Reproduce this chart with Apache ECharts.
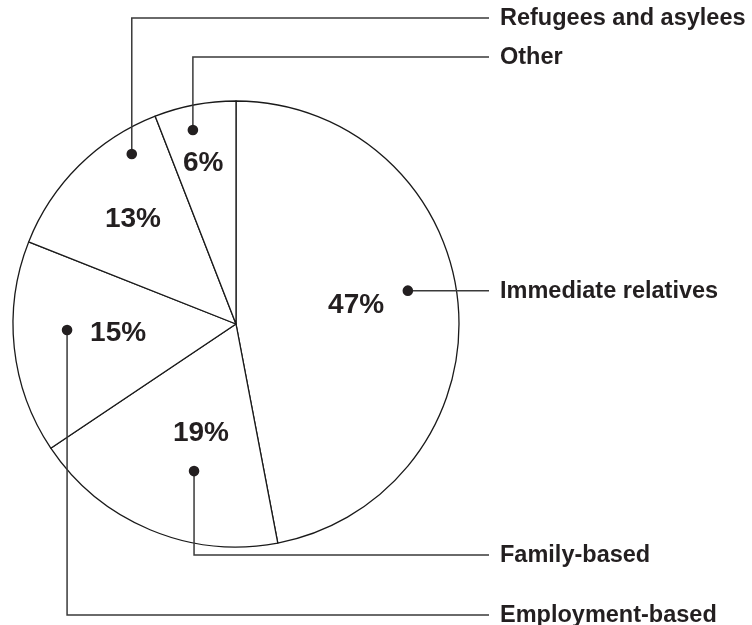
<!DOCTYPE html>
<html><head><meta charset="utf-8">
<script src="https://cdn.jsdelivr.net/npm/echarts@6/dist/echarts.min.js"></script>
<style>html,body{margin:0;padding:0;background:#fff}#c{width:752px;height:625px}</style>
</head><body><div id="c"></div>
<script>
// ---- data ----
const categories = ['Immediate relatives', 'Family-based', 'Employment-based', 'Refugees and asylees', 'Other'];
const shares = [47.0, 18.6, 15.4, 13.1, 5.9];
const shareLabels = ['47%', '19%', '15%', '13%', '6%'];

// ---- layout (placement inside each slice: [fraction of slice angle, fraction of radius]) ----
const valueLabelPlace = [[0.476, 0.546], [0.43, 0.509], [0.54, 0.53], [0.513, 0.663], [0.46, 0.741]];
const dotPlace = [[0.467, 0.785], [0.399, 0.686], [0.574, 0.758], [0.782, 0.894], [0.41, 0.891]];
const nameRowY = [null, 555, 615, 18, 57];
const LINE_END_X = 489, NAME_X = 500;
const FONT = "'Liberation Sans', Arial, Helvetica, sans-serif";
const INK = '#231f20';

const chart = echarts.init(document.getElementById('c'), null, { renderer: 'canvas' });

function sliceLayout(i) {
  let lay = null;
  try { lay = chart.getModel().getSeriesByIndex(0).getData().getItemLayout(i); } catch (e) { lay = null; }
  return lay;
}
function pointIn(i, place) {
  const lay = sliceLayout(i);
  const a = lay.startAngle + place[0] * (lay.endAngle - lay.startAngle);
  const r = lay.r * place[1];
  return [lay.cx + r * Math.cos(a), lay.cy + r * Math.sin(a)];
}

chart.setOption({
  animation: false,
  backgroundColor: '#ffffff',
  series: [{
    type: 'pie',
    center: [236, 324],
    radius: 223,
    startAngle: 90,
    clockwise: true,
    silent: true,
    itemStyle: { color: '#ffffff', borderColor: '#1a1a1a', borderWidth: 1.3 },
    label: {
      show: true,
      position: 'inside',
      formatter: p => shareLabels[p.dataIndex],
      fontFamily: FONT,
      fontWeight: 'bold',
      fontSize: 28,
      color: INK
    },
    labelLine: { show: false },
    labelLayout: function (p) {
      const pt = pointIn(p.dataIndex, valueLabelPlace[p.dataIndex]);
      return { x: pt[0], y: pt[1] + 1, align: 'center', verticalAlign: 'middle' };
    },
    emphasis: { disabled: true },
    data: categories.map((c, i) => ({ name: c, value: shares[i] }))
  }]
});

const graphics = [];
categories.forEach((name, i) => {
  const dot = pointIn(i, dotPlace[i]);
  const rowY = nameRowY[i] == null ? dot[1] : nameRowY[i];
  graphics.push({
    type: 'polyline', z: 10, silent: true,
    shape: { points: [dot, [dot[0], rowY], [LINE_END_X, rowY]] },
    style: { stroke: '#3a3a3a', lineWidth: 1.5, fill: null }
  });
  graphics.push({
    type: 'circle', z: 11, silent: true,
    shape: { cx: dot[0], cy: dot[1], r: 5.3 },
    style: { fill: INK }
  });
  graphics.push({
    type: 'text', z: 11, silent: true,
    x: NAME_X, y: rowY + 1,
    style: {
      text: name, fill: INK, font: 'bold 23.5px ' + FONT,
      textAlign: 'left', textVerticalAlign: 'middle'
    }
  });
});
chart.setOption({ graphic: graphics });
</script>
</body></html>
